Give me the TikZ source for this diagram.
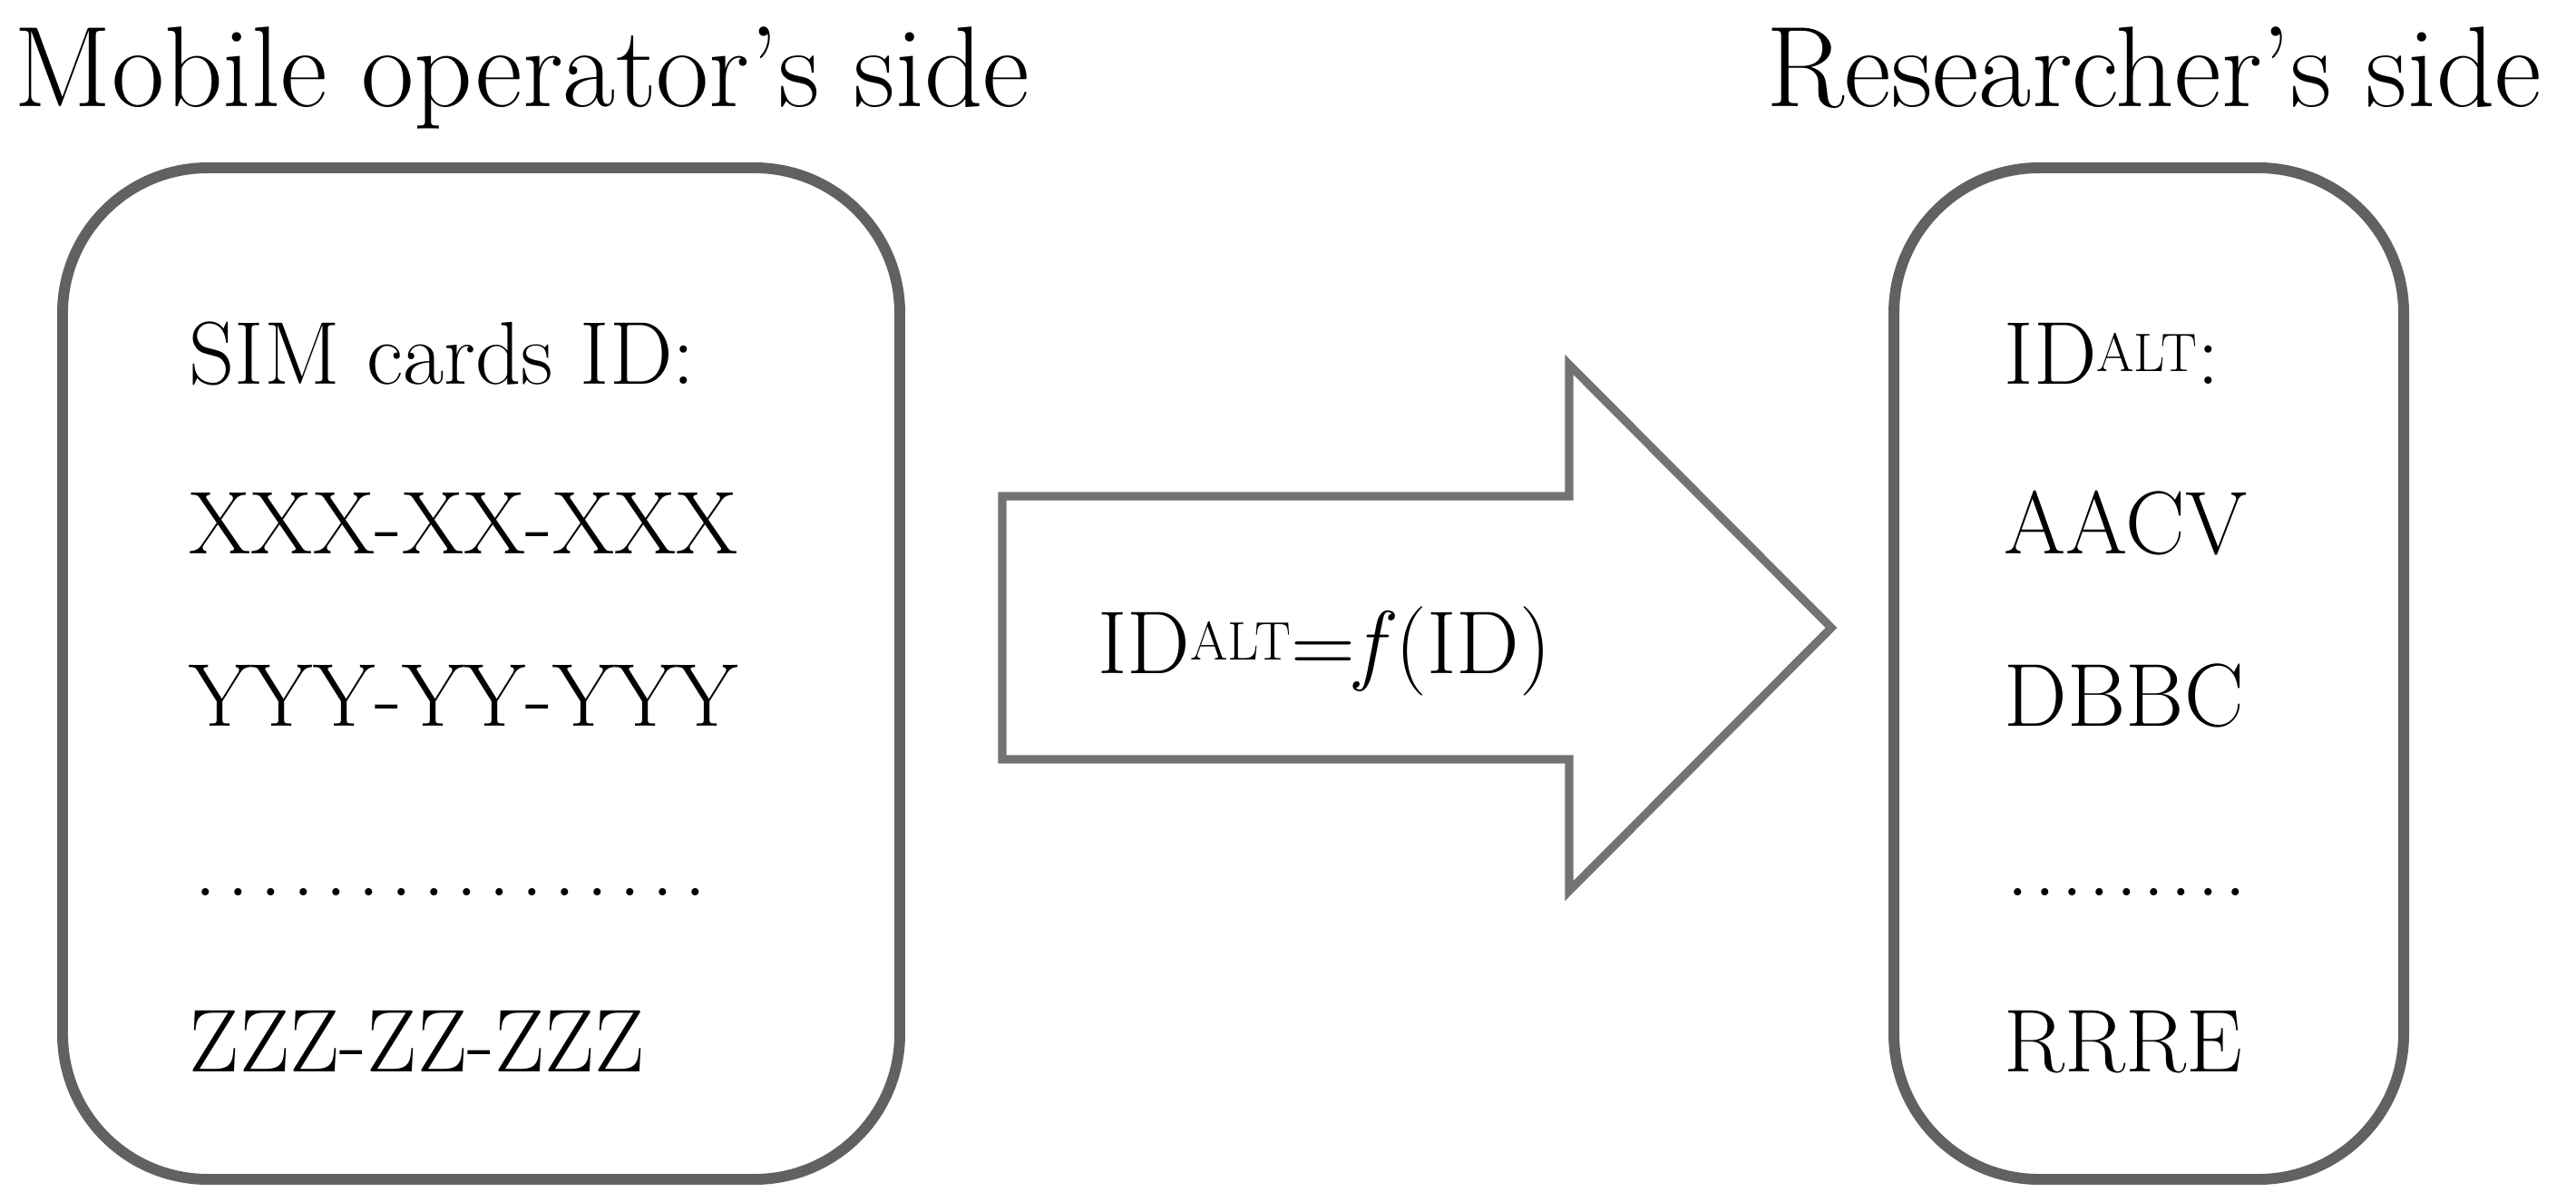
\documentclass[tikz,border=0pt]{standalone}
\usepackage{tikz}
\tikzset{
  box/.style={draw=black!62, line width=3.4pt, rounded corners=1.6cm},
  title/.style={anchor=base west, inner sep=0pt, font=\fontsize{36}{42}\selectfont},
  entry/.style={anchor=base west, inner sep=0pt, font=\fontsize{28}{32}\selectfont},
}
\newcommand{\alt}{\raisebox{0.35ex}{\fontsize{17}{20}\selectfont ALT}}
\begin{document}
\begin{tikzpicture}
    \useasboundingbox (0,0) rectangle (28.4,13.24);
    \node[title] (lt) at (0.15,12.06) {Mobile operator's side};
    \node[title] (rt) at (19.47,12.06) {Researcher's side};

    \draw[box] (0.69,0.24) rectangle (9.92,11.39);
    \draw[box] (20.88,0.24) rectangle (26.50,11.39);

    \node[entry] (l1) at (2.08,9.00) {SIM cards ID:};
    \node[entry] (l2) at (2.08,7.14) {XXX-XX-XXX};
    \node[entry] (l3) at (2.08,5.24) {YYY-YY-YYY};
    \node[entry] (l4) at (2.08,3.37) {\makebox[6.1cm]{\leaders\hbox to 0.36cm{\hss.\hss}\hfill}};
    \node[entry] (l5) at (2.08,1.43) {ZZZ-ZZ-ZZZ};

    \node[entry] (r1) at (22.09,9.00) {ID\alt:};
    \node[entry] (r2) at (22.09,7.14) {AACV};
    \node[entry] (r3) at (22.09,5.24) {DBBC};
    \node[entry] (r4) at (22.09,3.37) {\makebox[2.77cm]{\leaders\hbox to 0.3cm{\hss.\hss}\hfill}};
    \node[entry] (r5) at (22.09,1.43) {RRRE};

    \draw[draw=black!55, line width=2.6pt] (11.05,7.77) -- (17.30,7.77) -- (17.30,9.22)
      -- (20.19,6.32) -- (17.30,3.42) -- (17.30,4.87) -- (11.05,4.87) -- cycle;
    \node[entry] (f) at (12.10,5.82) {ID\alt=\textit{f}(ID)};
\end{tikzpicture}
\end{document}
